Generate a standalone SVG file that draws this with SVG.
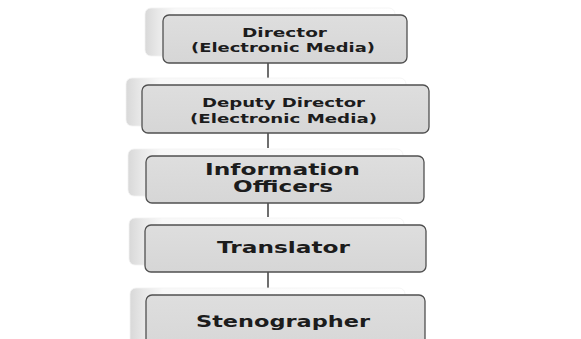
<svg xmlns="http://www.w3.org/2000/svg" width="581" height="339" viewBox="0 0 581 339">
<defs>
<linearGradient id="back" x1="0" y1="0" x2="1" y2="0">
<stop offset="0" stop-color="#d8d8d8"/>
<stop offset="0.05" stop-color="#e8e8e8"/>
<stop offset="0.12" stop-color="#f8f8f8"/>
<stop offset="1" stop-color="#ffffff"/>
</linearGradient>
<linearGradient id="front" x1="0" y1="0" x2="0" y2="1">
<stop offset="0" stop-color="#dedede"/>
<stop offset="1" stop-color="#d6d6d6"/>
</linearGradient>
</defs>
<style>
.back{fill:url(#back);stroke:#f2f2f2;stroke-width:0.8}
.box{fill:url(#front);stroke:#505050;stroke-width:1.3}
.t{font-family:"DejaVu Sans",Verdana,sans-serif;font-weight:bold;fill:#1c1c1c;text-anchor:start}
.s{font-size:12.5px}
.l{font-size:15.5px}
.conn{stroke:#4a4a4a;stroke-width:1.6;fill:none}
</style>
<rect width="581" height="339" fill="#ffffff"/>
<g id="connectors">
<line class="conn" x1="268" y1="63" x2="268" y2="80"/>
<line class="conn" x1="268" y1="133" x2="268" y2="148"/>
<line class="conn" x1="268" y1="203" x2="268" y2="217"/>
<line class="conn" x1="268" y1="272" x2="268" y2="288"/>
</g>
<g id="director">
<rect class="back" x="145" y="8" width="250" height="48" rx="6"/>
<rect class="box" x="163" y="15" width="244" height="48" rx="6"/>
<text class="t s" x="242" y="37" textLength="85" lengthAdjust="spacingAndGlyphs">Director</text>
<text class="t s" x="191" y="52" textLength="184" lengthAdjust="spacingAndGlyphs">(Electronic Media)</text>
</g>
<g id="deputy">
<rect class="back" x="126" y="78" width="280" height="48" rx="6"/>
<rect class="box" x="142" y="85" width="287" height="48" rx="6"/>
<text class="t s" x="202" y="107" textLength="163" lengthAdjust="spacingAndGlyphs">Deputy Director</text>
<text class="t s" x="190" y="123" textLength="187" lengthAdjust="spacingAndGlyphs">(Electronic Media)</text>
</g>
<g id="info">
<rect class="back" x="128" y="149" width="275" height="47" rx="6"/>
<rect class="box" x="146" y="156" width="278" height="47" rx="6"/>
<text class="t l" x="205" y="175" textLength="155" lengthAdjust="spacingAndGlyphs">Information</text>
<text class="t l" x="233" y="192" textLength="100" lengthAdjust="spacingAndGlyphs">Officers</text>
</g>
<g id="translator">
<rect class="back" x="129" y="218" width="275" height="47" rx="6"/>
<rect class="box" x="145" y="225" width="281" height="47" rx="6"/>
<text class="t l" x="217" y="253" textLength="133" lengthAdjust="spacingAndGlyphs">Translator</text>
</g>
<g id="stenographer">
<rect class="back" x="130" y="288" width="275" height="60" rx="6"/>
<rect class="box" x="146" y="295" width="279" height="60" rx="6"/>
<text class="t l" x="196" y="327" textLength="174" lengthAdjust="spacingAndGlyphs">Stenographer</text>
</g>
</svg>
